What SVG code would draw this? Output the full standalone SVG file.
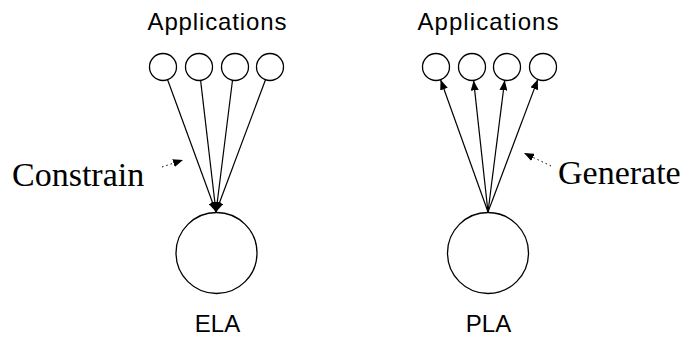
<svg xmlns="http://www.w3.org/2000/svg" width="685" height="339" viewBox="0 0 685 339">
<style>
.c{fill:none;stroke:#000;stroke-width:1.3}
.l{stroke:#000;stroke-width:1.2;fill:none}
.d{stroke:#000;stroke-width:1;stroke-dasharray:1.5,3;fill:none}
.s{font-family:"Liberation Sans",Arial,sans-serif;font-size:24px;fill:#000;text-anchor:middle}
.t{font-family:"Liberation Serif","Times New Roman",serif;font-size:34px;fill:#000}
</style>
<defs>
<marker id="ah" markerWidth="10" markerHeight="8" refX="10" refY="4" orient="auto" markerUnits="userSpaceOnUse">
<path d="M0,0 L10,4 L0,8 Z" fill="#000"/>
</marker>
</defs>
<rect width="685" height="339" fill="#fff"/>
<g id="ela-apps">
<text class="s" x="217" y="30" textLength="139">Applications</text>
<circle class="c" cx="163" cy="67" r="13.5"/>
<circle class="c" cx="199" cy="67" r="13.5"/>
<circle class="c" cx="235" cy="67" r="13.5"/>
<circle class="c" cx="270" cy="67" r="13.5"/>
</g>
<g id="ela">
<circle class="c" cx="216.5" cy="253" r="40.5"/>
<text class="s" x="217.5" y="332">ELA</text>
</g>
<g id="pla-apps">
<text class="s" x="488" y="30" textLength="141">Applications</text>
<circle class="c" cx="436" cy="67" r="13.5"/>
<circle class="c" cx="472" cy="67" r="13.5"/>
<circle class="c" cx="507" cy="67" r="13.5"/>
<circle class="c" cx="543" cy="67" r="13.5"/>
</g>
<g id="pla">
<circle class="c" cx="488" cy="253" r="40.5"/>
<text class="s" x="488.5" y="332">PLA</text>
</g>
<g id="constrain-label">
<text class="t" x="12" y="186">Constrain</text>
</g>
<g id="generate-label">
<text class="t" x="558" y="184">Generate</text>
</g>
<g id="connectors">
<line class="l" x1="167.6" y1="79.7" x2="216" y2="212" marker-end="url(#ah)"/>
<line class="l" x1="200.6" y1="80.4" x2="216" y2="212" marker-end="url(#ah)"/>
<line class="l" x1="232.5" y1="80.3" x2="216" y2="212" marker-end="url(#ah)"/>
<line class="l" x1="265.5" y1="79.7" x2="216" y2="212" marker-end="url(#ah)"/>
<line class="l" x1="488" y1="212" x2="440.6" y2="79.7" marker-end="url(#ah)"/>
<line class="l" x1="488" y1="212" x2="473.6" y2="80.4" marker-end="url(#ah)"/>
<line class="l" x1="488" y1="212" x2="504.7" y2="80.3" marker-end="url(#ah)"/>
<line class="l" x1="488" y1="212" x2="537.8" y2="79.4" marker-end="url(#ah)"/>
<line class="d" x1="162" y1="167" x2="183" y2="160" marker-end="url(#ah)"/>
<line class="d" x1="551" y1="166" x2="524" y2="153" marker-end="url(#ah)"/>
</g>
</svg>
